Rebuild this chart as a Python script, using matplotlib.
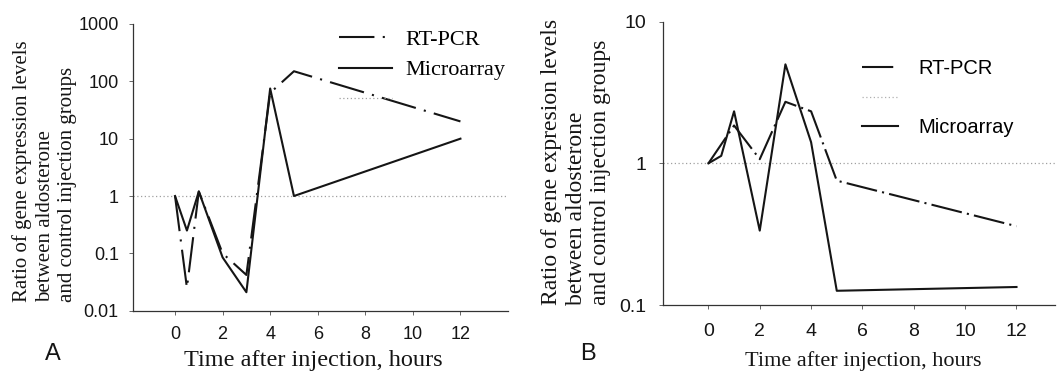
import matplotlib
matplotlib.use("Agg")
import matplotlib.pyplot as plt
from matplotlib.lines import Line2D

# panel A
hours_rt_a = [0, 0.5, 1, 2, 3, 4, 5, 12]
rtpcr_a = [1.0, 0.025, 1.2, 0.1, 0.042, 63, 150, 20]
hours_ma_a = [0, 0.5, 1, 2, 3, 4, 5, 12]
micro_a = [1.0, 0.25, 1.2, 0.085, 0.021, 75, 1.0, 10]

# panel B
hours_rt_b = [0, 1, 2, 3, 4, 5, 12]
rtpcr_b = [1.0, 1.85, 1.07, 2.72, 2.33, 0.755, 0.36]
hours_ma_b = [0, 0.5, 1, 2, 3, 4, 5, 12]
micro_b = [1.0, 1.13, 2.33, 0.335, 5.0, 1.41, 0.126, 0.134]

xticks = [0, 2, 4, 6, 8, 10, 12]
yticks_a = [0.01, 0.1, 1, 10, 100, 1000]
ytlabels_a = ["0.01", "0.1", "1", "10", "100", "1000"]
yticks_b = [0.1, 1, 10]
ytlabels_b = ["0.1", "1", "10"]

W, H = 1057, 371
fig = plt.figure(figsize=(W / 100, H / 100), dpi=100)
ink = "#151515"
serif = "Liberation Serif"
sans = "Liberation Sans"

def setup(ax, xlim, ylim, yt, ytl, fs, xpad, ypad):
    ax.set_yscale("log")
    ax.set_xlim(*xlim)
    ax.set_ylim(*ylim)
    ax.set_xticks(xticks)
    ax.set_xticklabels([str(t) for t in xticks], fontfamily=sans, fontsize=fs, color=ink)
    ax.set_yticks(yt)
    ax.set_yticklabels(ytl, fontfamily=sans, fontsize=fs, color=ink)
    ax.yaxis.set_minor_locator(matplotlib.ticker.NullLocator())
    for s in ["top", "right"]:
        ax.spines[s].set_visible(False)
    for s in ["left", "bottom"]:
        ax.spines[s].set_color("#333333")
        ax.spines[s].set_linewidth(0.9)
    ax.tick_params(axis="x", length=3, width=0.7, color="#666666", pad=xpad)
    ax.tick_params(axis="y", length=3, width=0.7, color="#666666", pad=ypad)
    ax.set_facecolor("none")

# ---- A ----
axA = fig.add_axes([132.7 / W, 1 - 310.7 / H, (508 - 132.7) / W, (310.7 - 24) / H])
setup(axA, (-1.78, 14.0), (0.01, 1000), yticks_a, ytlabels_a, 13, 8, 7)
axA.axhline(1, color="#a0a0a0", lw=0.9, ls=(0, (1, 2)), zorder=1)
axA.plot(hours_ma_a, micro_a, color=ink, lw=1.5, zorder=3)
axA.plot(hours_rt_a, rtpcr_a, color=ink, lw=1.5, ls=(0, (17, 4, 1, 4)), zorder=3)

hA = [Line2D([], [], color=ink, lw=1.5, ls=(0, (17, 4, 1, 4))),
      Line2D([], [], color=ink, lw=1.5),
      Line2D([], [], color="#a0a0a0", lw=0.9, ls=(0, (1, 2)))]
axA.legend(hA, ["RT-PCR", "Microarray", " "], loc="upper left",
           bbox_to_anchor=(339 / W, 1 - 29 / H), bbox_transform=fig.transFigure,
           frameon=False, borderpad=0, borderaxespad=0, handlelength=2.4,
           handletextpad=0.6, labelspacing=0.46,
           prop={"family": serif, "size": 16})

fig.text(45 / W, 1 - 302 / H,
         "Ratio of gene expression levels\nbetween aldosterone\nand control injection groups",
         rotation=90, ha="center", va="bottom", multialignment="left",
         fontfamily=serif, fontsize=15, color=ink, linespacing=1.25)
fig.text(313 / W, 1 - 366 / H, "Time after injection, hours", ha="center",
         va="baseline", fontfamily=serif, fontsize=17.5, color=ink)
fig.text(45 / W, 1 - 360 / H, "A", ha="left", va="baseline",
         fontfamily=sans, fontsize=17, color=ink)

# ---- B ----
axB = fig.add_axes([662.7 / W, 1 - 305 / H, (1055 - 662.7) / W, (305 - 21.7) / H])
setup(axB, (-1.78, 13.5), (0.1, 10), yticks_b, ytlabels_b, 14, 10, 9)
axB.axhline(1, color="#a0a0a0", lw=0.9, ls=(0, (1, 2)), zorder=1)
axB.plot(hours_ma_b, micro_b, color=ink, lw=1.5, zorder=3)
axB.plot(hours_rt_b, rtpcr_b, color=ink, lw=1.5, ls=(0, (15, 2.5, 1, 2.5)), zorder=3)

hB = [Line2D([], [], color=ink, lw=1.5, ls=(0, (15, 2.5, 1, 2.5))),
      Line2D([], [], color="#b0b0b0", lw=0.9, ls=(0, (1, 2))),
      Line2D([], [], color=ink, lw=1.5)]
axB.legend(hB, ["RT-PCR", " ", "Microarray"], loc="upper left",
           bbox_to_anchor=(862 / W, 1 - 59 / H), bbox_transform=fig.transFigure,
           frameon=False, borderpad=0, borderaxespad=0, handlelength=1.8,
           handletextpad=1.0, labelspacing=0.53,
           prop={"family": sans, "size": 14.5})

fig.text(576 / W, 1 - 305 / H,
         "Ratio of gene expresion levels\nbetween aldosterone\nand control injection groups",
         rotation=90, ha="center", va="bottom", multialignment="left",
         fontfamily=serif, fontsize=17, color=ink, linespacing=1.2)
fig.text(863 / W, 1 - 366 / H, "Time after injection, hours", ha="center",
         va="baseline", fontfamily=serif, fontsize=16, color=ink)
fig.text(580 / W, 1 - 360 / H, "B", ha="left", va="baseline",
         fontfamily=sans, fontsize=17, color=ink)

fig.savefig("out.png", dpi=100)
